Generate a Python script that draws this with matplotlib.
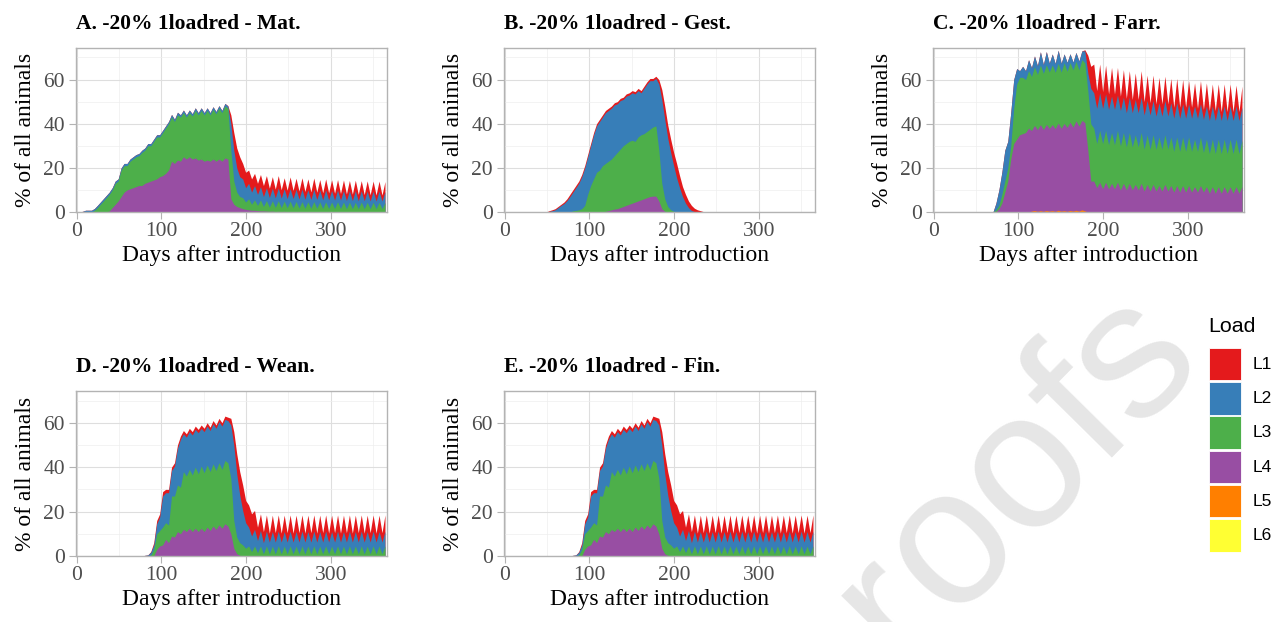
import numpy as np
import matplotlib
matplotlib.use("Agg")
import matplotlib.pyplot as plt
from matplotlib.patches import Rectangle

plt.rcParams['font.family'] = ['Liberation Serif', 'DejaVu Serif']

# ---------------- data (days after introduction, % of all animals per load level) -------------
days = np.arange(0, 365, 3.5)   # 105 time points

load_levels = ["L1", "L2", "L3", "L4", "L5", "L6"]
load_colors = {"L1": "#E41A1C", "L2": "#377EB8", "L3": "#4DAF4A",
               "L4": "#984EA3", "L5": "#FF7F00", "L6": "#FFFF33"}

titles = ["A. -20% 1loadred - Mat.", "B. -20% 1loadred - Gest.", "C. -20% 1loadred - Farr.",
          "D. -20% 1loadred - Wean.", "E. -20% 1loadred - Fin."]

zeros = [0.0] * 105

# ---- Panel A (Mat.)
a_l4 = [0, 0, 0, 0, 0, 0, 0, 0, 0, 0,
        0, 0.5, 2, 3.5, 5, 7, 9, 10, 10.5, 11,
        11.5, 12, 12, 13, 13.5, 14, 14.5, 15, 16, 16.5,
        17.5, 19, 23, 22, 23.5, 23, 25, 24, 25, 24,
        24.5, 23.5, 24, 23, 23.5, 23, 24, 23, 24, 23,
        24.5, 24, 6, 3.5, 2.5, 2, 1.5, 1.2, 1, 0.8,
        0.8, 0.6, 0.5, 0.5, 0.4, 0.3, 0.4, 0.2, 0.3, 0.2,
        0.3, 0.1, 0.2, 0.1, 0.2, 0.1, 0.1, 0, 0.1, 0,
        0.1, 0, 0.1, 0, 0.1, 0, 0.1, 0, 0.1, 0,
        0.1, 0, 0.1, 0, 0.1, 0, 0.1, 0, 0.1, 0,
        0.1, 0, 0.1, 0, 0.1]
a_l3 = [0, 0, 0, 0, 0, 0, 0.8, 2, 3.5, 5,
        6.5, 7.5, 8, 9.5, 9, 12, 12, 11, 12.5, 13,
        13.5, 13.5, 15, 15, 16.5, 16, 17.5, 19, 18, 19.5,
        20.5, 21, 20, 19, 20.5, 20, 20, 19, 20, 19.5,
        21.5, 20.5, 22, 21, 22.5, 21, 22.5, 21.5, 23, 22,
        23.5, 23, 22, 10.5, 6.5, 5, 5, 3.3, 5, 2.7,
        4.7, 2.4, 5, 2, 4.8, 1.9, 4.7, 1.9, 4.8, 1.8,
        4.6, 1.8, 4.7, 1.8, 4.6, 1.7, 4.6, 1.7, 4.5, 1.7,
        4.6, 1.7, 4.5, 1.6, 4.5, 1.6, 4.4, 1.6, 4.5, 1.6,
        4.4, 1.5, 4.4, 1.5, 4.3, 1.5, 4.4, 1.5, 4.3, 1.5,
        4.3, 1.5, 4.3, 1.5, 4.2]
a_l2 = [0, 0, 0.3, 0.8, 0.8, 0.8, 0.8, 1, 1, 1,
        1, 1, 1, 1, 1, 1, 1, 1, 1, 1,
        1, 1, 1, 1, 1, 1, 1, 1, 1, 1,
        1, 1, 1.2, 1, 1.2, 1, 1.2, 1, 1.2, 1,
        1.2, 1, 1.2, 1, 1.2, 1, 1.2, 1, 1.2, 1,
        1.2, 1, 12, 14, 11, 9, 8.5, 6.5, 7, 5.5,
        6.5, 5, 6, 4.5, 5.8, 4.4, 5.7, 4.3, 5.8, 4.3,
        5.6, 4.2, 5.7, 4.2, 5.5, 4.1, 5.6, 4.1, 5.4, 4,
        5.5, 4, 5.3, 3.9, 5.4, 3.9, 5.2, 3.8, 5.3, 3.8,
        5.2, 3.7, 5.1, 3.7, 5.2, 3.6, 5.1, 3.6, 5, 3.5,
        5, 3.5, 5, 3.5, 5]
a_l1 = [0, 0, 0, 0, 0, 0, 0, 0, 0, 0,
        0, 0, 0, 0, 0, 0, 0, 0, 0, 0,
        0, 0, 0, 0, 0, 0, 0, 0, 0, 0,
        0, 0, 0, 0, 0, 0, 0, 0, 0, 0,
        0, 0, 0, 0, 0, 0, 0, 0, 0, 0,
        0, 0.2, 4, 8, 9, 9, 7, 7, 6, 6,
        5.5, 5, 5.5, 5, 5.5, 4.2, 5.2, 4, 5.6, 3.8,
        5, 3.8, 5.3, 3.7, 5, 3.6, 5.2, 3.5, 5, 3.4,
        5.2, 3.3, 4.8, 3.2, 5, 3.2, 4.9, 3.1, 4.8, 3,
        4.8, 3, 4.7, 2.9, 4.8, 2.9, 4.6, 2.8, 4.7, 2.8,
        4.6, 2.7, 4.6, 2.7, 4.5]

# ---- Panel B (Gest.)
b_l4 = [0, 0, 0, 0, 0, 0, 0, 0, 0, 0,
        0, 0, 0, 0, 0, 0, 0, 0, 0, 0,
        0, 0, 0, 0, 0, 0, 0, 0, 0, 0,
        0, 0, 0, 0, 0.3, 0.6, 1, 1.3, 1.5, 2,
        2.5, 3, 3.5, 4, 4.5, 5, 5.5, 6, 6.5, 7,
        7.2, 7.2, 5, 1.5, 0.3, 0, 0, 0, 0, 0,
        0, 0, 0, 0, 0, 0, 0, 0, 0, 0,
        0, 0, 0, 0, 0, 0, 0, 0, 0, 0,
        0, 0, 0, 0, 0, 0, 0, 0, 0, 0,
        0, 0, 0, 0, 0, 0, 0, 0, 0, 0,
        0, 0, 0, 0, 0]
b_l3 = [0, 0, 0, 0, 0, 0, 0, 0, 0, 0,
        0, 0, 0, 0, 0, 0, 0, 0, 0, 0,
        0, 0, 0, 0.5, 0.7, 1, 1.5, 3, 8, 12,
        15, 18, 19, 21, 21.7, 22.4, 23, 24.2, 25.5, 26.5,
        27.5, 28, 28.5, 28.5, 27.5, 29, 29.5, 29.5, 30, 30.5,
        31.3, 31.8, 23, 11.5, 5.7, 2.5, 1, 0.3, 0, 0,
        0, 0, 0, 0, 0, 0, 0, 0, 0, 0,
        0, 0, 0, 0, 0, 0, 0, 0, 0, 0,
        0, 0, 0, 0, 0, 0, 0, 0, 0, 0,
        0, 0, 0, 0, 0, 0, 0, 0, 0, 0,
        0, 0, 0, 0, 0]
b_l2 = [0, 0, 0, 0, 0, 0, 0, 0, 0, 0,
        0, 0, 0, 0, 0, 0.3, 0.6, 1, 2, 3,
        3.8, 5.2, 7, 8.5, 10.3, 12, 14.5, 17, 17, 18,
        20, 21, 22, 22, 23, 23, 23, 23, 22, 22,
        21, 21.5, 21, 21.5, 21.5, 21, 19, 20.5, 21.5, 22,
        21, 21.5, 30, 38, 36, 31, 26, 20.7, 15.5, 11,
        7, 4, 2, 0.7, 0.2, 0, 0, 0, 0, 0,
        0, 0, 0, 0, 0, 0, 0, 0, 0, 0,
        0, 0, 0, 0, 0, 0, 0, 0, 0, 0,
        0, 0, 0, 0, 0, 0, 0, 0, 0, 0,
        0, 0, 0, 0, 0]
b_l1 = [0, 0, 0, 0, 0, 0, 0, 0, 0, 0,
        0, 0, 0, 0, 0, 0.3, 0.4, 0.5, 0.5, 0.5,
        0.7, 0.8, 1, 1, 1, 1, 1, 1, 1, 1,
        1, 1, 1, 1, 1, 1, 1, 1, 1, 1,
        1, 1, 1, 1, 1, 1, 1, 1, 1, 1,
        1, 1, 2, 4.5, 6, 6, 6, 6, 6.5, 5.5,
        4.5, 4, 3, 2.3, 1.5, 1, 0.6, 0.2, 0, 0,
        0, 0, 0, 0, 0, 0, 0, 0, 0, 0,
        0, 0, 0, 0, 0, 0, 0, 0, 0, 0,
        0, 0, 0, 0, 0, 0, 0, 0, 0, 0,
        0, 0, 0, 0, 0]

# ---- Panel C (Farr.)
c_l5 = [0, 0, 0, 0, 0, 0, 0, 0, 0, 0,
        0, 0, 0, 0, 0, 0, 0, 0, 0, 0,
        0, 0, 0, 0, 0, 0, 0, 0, 0, 0,
        0, 0, 0, 0.4, 0.7, 0.3, 0.6, 0.3, 0.7, 0.4,
        0.6, 0.3, 0.8, 0.4, 0.6, 0.3, 0.7, 0.4, 0.8, 0.4,
        1, 0.5, 0, 0, 0, 0, 0, 0, 0, 0,
        0, 0, 0, 0, 0, 0, 0, 0, 0, 0,
        0, 0, 0, 0, 0, 0, 0, 0, 0, 0,
        0, 0, 0, 0, 0, 0, 0, 0, 0, 0,
        0, 0, 0, 0, 0, 0, 0, 0, 0, 0,
        0, 0, 0, 0, 0]
c_l4 = [0, 0, 0, 0, 0, 0, 0, 0, 0, 0,
        0, 0, 0, 0, 0, 0, 0, 0, 0, 0,
        0, 0.2, 1.5, 4, 9, 14, 24, 31, 33, 35,
        35.5, 36, 38, 36.5, 38.5, 37, 39, 37, 39, 37.5,
        39, 37.5, 39.5, 37.5, 39.5, 38, 40, 38, 40.5, 38.5,
        40.5, 40, 28, 14, 14, 11, 13.5, 10.5, 13.5, 10.5,
        13, 10.5, 13.5, 10, 13, 10, 13, 10, 12.5, 10,
        13, 9.5, 12.5, 9.5, 12.5, 9.5, 12, 9.5, 12.5, 9.5,
        12, 9, 12, 9, 12, 9, 12, 9, 11.5, 9,
        12, 9, 11.5, 8.5, 11.5, 8.5, 11.5, 8.5, 11.5, 8.5,
        11.5, 8.5, 11.5, 8.5, 11.5]
c_l3 = [0, 0, 0, 0, 0, 0, 0, 0, 0, 0,
        0, 0, 0, 0, 0, 0, 0, 0, 0, 0,
        0, 0.8, 1.5, 4, 5, 6, 6, 16, 25, 26,
        25.5, 24, 26, 24.5, 26.5, 25, 27, 25.5, 27, 25.5,
        27, 25.5, 27, 25.5, 27.5, 25.5, 27, 26, 27, 25.5,
        27.5, 27, 27, 26, 24, 20, 23.5, 20.5, 23.5, 20,
        23, 20, 23.5, 20, 23, 19.5, 23, 19.5, 22.5, 19.5,
        23, 19, 22.5, 19, 22.5, 19, 22, 19, 22.5, 19,
        22, 18.5, 22, 18.5, 22, 18.5, 22, 18.5, 21.5, 18.5,
        22, 18, 21.5, 18, 21.5, 18, 21.5, 18, 21.5, 18,
        21.5, 18, 21.5, 18, 21]
c_l2 = [0, 0, 0, 0, 0, 0, 0, 0, 0, 0,
        0, 0, 0, 0, 0, 0, 0, 0, 0, 0,
        0, 3, 7, 10, 14, 12, 15, 13, 7, 3,
        5, 4, 5, 4, 5, 4, 6, 4, 6, 4,
        5, 4, 6, 4, 4, 4, 4, 3.5, 4, 4,
        4, 5.5, 8, 16, 16, 16, 17, 16, 16.5, 16,
        16.5, 16, 16, 16, 16, 15.5, 16, 15.5, 16, 15.5,
        16, 15.5, 15.5, 15.5, 15.5, 15, 15.5, 15, 15.5, 15,
        15.5, 15, 15.5, 15, 15, 15, 15, 15, 15, 15,
        15, 15, 15, 15, 15, 15, 15, 15, 15, 15,
        15, 15, 15, 15, 15]
c_l1 = [0, 0, 0, 0, 0, 0, 0, 0, 0, 0,
        0, 0, 0, 0, 0, 0, 0, 0, 0, 0,
        0, 0, 0, 0, 0, 0, 0, 0, 0, 0,
        0, 0, 0, 0, 0, 0, 0, 0, 0, 0,
        0, 0, 0, 0, 0, 0, 0, 0, 0, 0,
        0, 0.5, 8, 10, 13, 8, 13, 7.5, 13, 7,
        13, 7, 12.5, 6.5, 12.5, 6.5, 12, 6, 12, 6,
        12, 6, 11.5, 5.5, 11.5, 5.5, 11.5, 5.5, 11, 5.5,
        11, 5, 11, 5, 11, 5, 10.5, 5, 10.5, 4.5,
        10.5, 4.5, 10.5, 4.5, 10, 4.5, 10, 4, 10, 4,
        10, 4, 9.5, 4, 9.5]

# ---- Panel D (Wean.)
d_l4 = [0, 0, 0, 0, 0, 0, 0, 0, 0, 0,
        0, 0, 0, 0, 0, 0, 0, 0, 0, 0,
        0, 0, 0, 0, 0, 0, 0, 3, 4.5, 5,
        7.5, 6, 9, 8.5, 11, 10, 12, 11, 12.5, 11,
        12.5, 11, 12.5, 11, 13, 11.5, 13.5, 12, 14, 12.5,
        14.5, 13.5, 10, 3.5, 1, 0.3, 0, 0, 0, 0,
        0, 0, 0, 0, 0, 0, 0, 0, 0, 0,
        0, 0, 0, 0, 0, 0, 0, 0, 0, 0,
        0, 0, 0, 0, 0, 0, 0, 0, 0, 0,
        0, 0, 0, 0, 0, 0, 0, 0, 0, 0,
        0, 0, 0, 0, 0]
d_l3 = [0, 0, 0, 0, 0, 0, 0, 0, 0, 0,
        0, 0, 0, 0, 0, 0, 0, 0, 0, 0,
        0, 0, 0, 0, 0, 0.5, 3, 7, 7, 8,
        7.5, 8, 18, 18.5, 21, 21, 26, 25, 26.5, 25.5,
        27.5, 26, 28, 26.5, 28, 26.5, 28, 26.5, 28, 26.5,
        28.5, 28.5, 25, 12.5, 7.5, 5.7, 5, 3.5, 4.5, 2,
        4.5, 1.5, 4.5, 1, 4.6, 1, 4.5, 1, 4.6, 1,
        4.5, 1, 4.6, 1, 4.5, 1, 4.6, 1, 4.5, 1,
        4.6, 1, 4.5, 1, 4.6, 1, 4.5, 1, 4.6, 1,
        4.5, 1, 4.6, 1, 4.5, 1, 4.6, 1, 4.5, 1,
        4.6, 1, 4.5, 1, 4.6]
d_l2 = [0, 0, 0, 0, 0, 0, 0, 0, 0, 0,
        0, 0, 0, 0, 0, 0, 0, 0, 0, 0,
        0, 0, 0, 0.3, 0.5, 1.2, 2, 4.5, 6, 14,
        13.5, 14.5, 11.5, 13.5, 16.5, 21.5, 17, 17.5, 17, 18,
        17, 18.5, 17, 18.5, 17.5, 18.5, 18, 19, 18.5, 19.5,
        18.5, 19, 24, 34, 28.5, 21.5, 15.5, 11.5, 8.5, 7,
        7.5, 5.5, 7, 5, 6.6, 5.3, 6.5, 5.3, 6.6, 5.3,
        6.5, 5.3, 6.6, 5.3, 6.5, 5.3, 6.6, 5.3, 6.5, 5.3,
        6.6, 5.3, 6.5, 5.3, 6.6, 5.3, 6.5, 5.3, 6.6, 5.3,
        6.5, 5.3, 6.6, 5.3, 6.5, 5.3, 6.6, 5.3, 6.5, 5.3,
        6.6, 5.3, 6.5, 5.3, 6.6]
d_l1 = [0, 0, 0, 0, 0, 0, 0, 0, 0, 0,
        0, 0, 0, 0, 0, 0, 0, 0, 0, 0,
        0, 0, 0, 0, 0, 0.3, 1, 1.5, 1.5, 2,
        1.5, 1.5, 1.5, 1.5, 1.5, 1.5, 1.5, 1.5, 1.5, 1.5,
        1.5, 1.5, 1.5, 1.5, 1.5, 1.5, 1.5, 1.5, 1.5, 1.5,
        1.5, 1.5, 3, 6, 9, 10.5, 11.5, 10, 10, 10,
        8.5, 6, 7.5, 5, 7.3, 4, 7.4, 4.2, 7.3, 4,
        7.4, 4.2, 7.3, 4, 7.4, 4.2, 7.3, 4, 7.4, 4.2,
        7.3, 4, 7.4, 4.2, 7.3, 4, 7.4, 4.2, 7.3, 4,
        7.4, 4.2, 7.3, 4, 7.4, 4.2, 7.3, 4, 7.4, 4.2,
        7.3, 4, 7.4, 4.2, 7.3]

# ---- Panel E (Fin.) reads the same as panel D
e_l4 = list(d_l4)
e_l3 = list(d_l3)
e_l2 = list(d_l2)
e_l1 = list(d_l1)

# stacks listed bottom -> top (L6, L5, L4, L3, L2, L1)
panel_layers = [
    [zeros, zeros, a_l4, a_l3, a_l2, a_l1],
    [zeros, zeros, b_l4, b_l3, b_l2, b_l1],
    [zeros, c_l5, c_l4, c_l3, c_l2, c_l1],
    [zeros, zeros, d_l4, d_l3, d_l2, d_l1],
    [zeros, zeros, e_l4, e_l3, e_l2, e_l1],
]
stack_order = ["L6", "L5", "L4", "L3", "L2", "L1"]

# ---------------- figure ----------------
W, H = 1284, 622
fig = plt.figure(figsize=(W / 100, H / 100), dpi=100)
fig.patch.set_facecolor('white')


def px_axes(l, t, r, b):
    return fig.add_axes([l / W, 1 - b / H, (r - l) / W, (b - t) / H])


boxes = [(76, 48, 387, 212), (504, 48, 815, 212), (933, 48, 1244, 212),
         (76, 391, 387, 556), (504, 391, 815, 556)]

tick_grey = '#4D4D4D'
for box, title, layers in zip(boxes, titles, panel_layers):
    ax = px_axes(*box)
    ax.set_facecolor('white')
    cum = np.cumsum(np.array(layers, dtype=float), axis=0)
    for k in range(len(stack_order) - 1, -1, -1):
        ax.fill_between(days, 0, cum[k], color=load_colors[stack_order[k]],
                        lw=0, zorder=2)
    ax.set_xlim(-0.8, 366.4)
    ax.set_ylim(0, 74.3)
    ax.set_xticks([0, 100, 200, 300])
    ax.set_xticks([50, 150, 250, 350], minor=True)
    ax.set_yticks([0, 20, 40, 60])
    ax.set_yticks([10, 30, 50, 70], minor=True)
    ax.grid(which='major', color='#DEDEDE', lw=0.8)
    ax.grid(which='minor', color='#EEEEEE', lw=0.5)
    ax.set_axisbelow(True)
    ax.tick_params(which='minor', length=0)
    ax.tick_params(which='major', length=5, width=0.8, color='#B3B3B3',
                   labelcolor=tick_grey, labelsize=15.5)
    ax.tick_params(axis='x', pad=2.3)
    ax.tick_params(axis='y', pad=2.9)
    for s in ax.spines.values():
        s.set_color('#B3B3B3')
        s.set_linewidth(1.0)
    ax.set_title(title, loc='left', fontsize=15.5, fontweight='bold', pad=13.5)
    ax.set_xlabel('Days after introduction', fontsize=17, labelpad=2.5)
    ax.set_ylabel('% of all animals', fontsize=17, labelpad=5.5)

# watermark (behind the panels), letters placed along a 45 degree line
wm_letters = ['r', 'o', 'o', 'f', 's']
wm_x = [888.3, 951.5, 1026.5, 1081.8, 1134.4]
wm_y = [609.1, 545.0, 469.0, 412.9, 359.4]
for ch, x, y in zip(wm_letters, wm_x, wm_y):
    fig.text(x / W, 1 - y / H, ch, rotation=45.4, rotation_mode='anchor',
             ha='center', va='center', fontsize=140, color='#E6E6E6',
             family='Liberation Sans', zorder=-1)

# legend
lax = fig.add_axes([0, 0, 1, 1], zorder=5)
lax.set_xlim(0, W)
lax.set_ylim(H, 0)
lax.axis('off')
lax.text(1208, 326, 'Load', fontsize=15.4, family='Liberation Sans',
         ha='left', va='center', color='black')
key_top = 347.7
key_step = 34.3
for i, lev in enumerate(load_levels):
    y0 = key_top + i * key_step
    lax.add_patch(Rectangle((1209, y0), 32, 32.5, facecolor=load_colors[lev],
                            edgecolor='white', lw=0.6))
    lax.text(1253, y0 + 16.5, lev, fontsize=12.5, family='Liberation Sans',
             ha='left', va='center', color='black')

fig.savefig('out.png', dpi=100)
